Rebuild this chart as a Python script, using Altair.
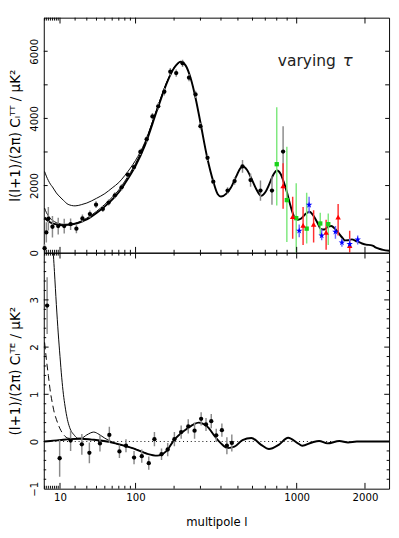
import numpy as np
import pandas as pd
import altair as alt

# ---------------- data ----------------
# TT best-fit model (thick line)
tt_fit_l = [2, 3, 4, 5, 6, 8, 10, 12, 15, 20, 25, 30, 40, 50, 60, 70, 80, 90, 100, 120,
            150, 180, 200, 222, 240, 260, 280, 300, 330, 360, 383, 400, 430, 455, 490,
            515, 535, 560, 592, 630, 666, 700, 731, 770, 804, 835, 865, 900, 929, 955,
            980, 1014, 1050, 1089, 1148, 1200, 1250, 1295, 1340, 1390, 1438, 1490, 1541,
            1600, 1649, 1700, 1760, 1850, 1945, 2020, 2108, 2160, 2218, 2300, 2367, 2500]
tt_fit_v = [1050, 990, 940, 900, 875, 845, 828, 820, 830, 860, 920, 990, 1180, 1380, 1580,
            1800, 2060, 2320, 2590, 3200, 4250, 5120, 5500, 5690, 5580, 5180, 4580, 3870,
            2850, 2120, 1740, 1672, 1760, 1927, 2280, 2514, 2570, 2470, 2210, 1880, 1692,
            1800, 2020, 2330, 2446, 2350, 2117, 1780, 1454, 1200, 1029, 983, 1020, 1125,
            1219, 1090, 887, 700, 690, 770, 793, 720, 604, 460, 368, 370, 397, 340, 275,
            240, 227, 200, 150, 110, 85, 57]
# TT models with other tau (thin lines, low multipoles only, they merge above l~200)
tt_mid_l = [2, 3, 4, 5, 6, 8, 10, 12, 15, 20, 30, 40, 50, 60, 70, 80, 90, 100, 120, 150, 180, 200, 222]
tt_mid_v = [1330, 1200, 1100, 1020, 965, 895, 860, 845, 850, 880, 1030, 1230, 1440, 1650,
            1870, 2130, 2390, 2660, 3260, 4290, 5140, 5505, 5690]
tt_high_l = [2, 3, 4, 5, 6, 8, 10, 12, 15, 20, 25, 30, 40, 50, 60, 70, 80, 90, 100, 120, 150, 180, 200, 222]
tt_high_v = [2420, 2280, 2150, 2040, 1960, 1780, 1660, 1560, 1440, 1395, 1430, 1480, 1620,
             1760, 1930, 2090, 2300, 2520, 2750, 3290, 4300, 5140, 5510, 5690]

# TT black data points
tt_l = [2, 3, 4, 6, 9, 12.5, 16.7, 21, 26, 33, 39.5, 47.5, 55, 64, 74.5, 85, 97, 110, 124,
        138, 153, 170, 188, 207, 229, 253, 279, 300, 332, 360, 437, 479, 530, 586, 661, 757, 860]
tt_v = [133, 604, 1012, 774, 793, 793, 850, 717, 1020, 1150, 1430, 1304, 1493, 1710, 1946,
        2324, 2550, 3003, 3380, 4060, 4360, 4795, 5390, 5350, 5640, 5213, 4715, 3770, 2825,
        2117, 1851, 2134, 2570, 2162, 1851, 1851, 3013]
tt_err = [120, 300, 350, 320, 250, 220, 170, 140, 120, 110, 100, 90, 90, 90, 90, 90, 90, 90,
          100, 100, 100, 110, 110, 110, 110, 110, 110, 100, 90, 80, 100, 110, 190, 200, 300, 425, 750]

# other experiments
green_l = [800, 897, 995, 1114, 1285, 1395]
green_v = [2636, 1567, 1030, 717, 870, 850]
green_lo = [1408, 320, 0, 275, 510, 227]
green_hi = [4336, 3154, 2070, 1785, 1190, 1170]

red_l = [860, 957, 1072, 1199, 1365, 1541, 1727]
red_v = [1993, 1077, 813, 842, 604, 1057, 207]
red_lo = [1312, 417, 227, 303, 85, 510, 0]
red_hi = [2664, 1663, 1360, 1267, 983, 1454, 652]

blue_l = [1028, 1143, 1304, 1500, 1600, 1727, 1866]
blue_v = [652, 1425, 510, 623, 303, 255, 388]
blue_lo = [462, 1170, 368, 416, 179, 142, 247]
blue_hi = [842, 1663, 700, 793, 416, 416, 510]

# TE models
te_fit_l = [2, 5, 10, 16, 25, 35, 45, 68, 97, 125, 150, 175, 200, 240, 270, 292, 310, 335,
            364, 400, 437, 478, 530, 592, 666, 731, 818, 910, 1014, 1062, 1180, 1270, 1383,
            1560, 1700, 1850, 2100, 2500]
te_fit_v = [0.0, 0.01, 0.03, 0.05, 0.06, 0.04, 0.02, -0.05, -0.15, -0.26, -0.30, -0.21, 0.03,
            0.25, 0.36, 0.40, 0.38, 0.30, 0.13, -0.04, -0.14, -0.11, 0.03, 0.075, -0.07, -0.16,
            -0.07, 0.08, -0.04, -0.09, -0.02, 0.01, -0.04, 0.01, -0.02, 0.0, 0.0, 0.0]
te_dash_l = [2, 3, 4, 5, 6, 7, 8, 10, 12, 15, 20]
te_dash_v = [2.1, 1.75, 1.4, 1.05, 0.8, 0.6, 0.47, 0.27, 0.15, 0.07, 0.06]
te_thin_l = [2, 3, 4, 5, 6, 7, 8, 9, 10, 11, 12, 13, 14.5, 16, 19.5, 22, 25, 30, 37, 43, 50,
             60, 70, 85, 97, 125]
te_thin_v = [9.0, 7.6, 6.4, 5.3, 4.3, 3.6, 2.9, 2.3, 1.8, 1.35, 1.0, 0.75, 0.47, 0.3, 0.13,
             0.07, 0.07, 0.14, 0.2, 0.15, 0.07, -0.01, -0.07, -0.11, -0.15, -0.26]

# TE data
te_l = [3.4, 9.8, 16.7, 25.5, 32.5, 44, 56, 71, 82, 97, 113, 129, 143, 162, 180, 201, 224,
        250, 275, 303, 325, 350, 375, 405, 433, 462]
te_v = [2.88, -0.355, 0.02, -0.06, -0.24, -0.04, 0.14, -0.21, -0.09, -0.34, -0.31, -0.46,
        0.05, -0.27, -0.17, 0.05, 0.2, 0.32, 0.23, 0.48, 0.36, 0.43, 0.13, 0.24, -0.09, -0.03]
te_err = [0.6, 0.39, 0.22, 0.22, 0.22, 0.17, 0.17, 0.14, 0.14, 0.14, 0.14, 0.14, 0.15, 0.12,
          0.14, 0.15, 0.14, 0.15, 0.17, 0.14, 0.14, 0.15, 0.14, 0.14, 0.18, 0.18]

# axis ticks and labels
x_minor_l = [2, 3, 4, 5, 6, 7, 8, 9, 20, 30, 40, 50, 60, 70, 80, 90,
             200, 300, 400, 500, 600, 700, 800, 900]
x_major_l = [10, 100, 1000, 2000]
x_label_l = [10, 100, 1000, 2000]
tt_tick_v = [1000, 2000, 3000, 4000, 5000, 6000]
tt_label_v = [0, 2000, 4000, 6000]
te_major_v = [0, 1, 2, 3]
te_minor_v = [-0.8, -0.6, -0.4, -0.2, 0.2, 0.4, 0.6, 0.8, 1.2, 1.4, 1.6, 1.8,
              2.2, 2.4, 2.6, 2.8, 3.2, 3.4, 3.6, 3.8]
te_label_v = [-1, 0, 1, 2, 3]

# ---------------- chart ----------------
W, H1, H2 = 357, 243, 244
L_MAX = 2500
FONT = "DejaVu Sans"

xs = alt.Scale(type="pow", exponent=2.5, domain=[0, float(np.log10(L_MAX))], nice=False, zero=False)
tt_ys = alt.Scale(domain=[0, 7000], nice=False, zero=False)
te_ys = alt.Scale(domain=[-1, 4], nice=False, zero=False)

yaxis_common = dict(ticks=False, domain=False, grid=False, labelAngle=270, labelAlign="center",
                    labelBaseline="bottom", labelPadding=4, labelFontSize=10.5, labelFlush=False,
                    labelOverlap=False, titleFontSize=14, titlePadding=8, labelFont=FONT,
                    titleFont=FONT, labelColor="black", titleColor="black",
                    titleFontWeight="normal", format="d")
tt_axis = alt.Axis(values=tt_label_v, title="l(l+1)/(2π) Cₗᵀᵀ / μK²", **yaxis_common)
te_axis = alt.Axis(values=te_label_v, title="(l+1)/(2π) Cₗᵀᴱ / μK²", **yaxis_common)
x_axis = alt.Axis(values=[float(np.log10(v)) for v in x_label_l],
                  labelExpr="'' + round(pow(10, datum.value))",
                  title="multipole l", ticks=False, domain=False, grid=False,
                  labelPadding=4, labelFontSize=10.5, titleFontSize=12, titlePadding=15,
                  labelFont=FONT, titleFont=FONT, labelColor="black", titleColor="black",
                  titleFontWeight="normal", labelFlush=False, labelOverlap=False)

star = ("M0,-1L0.2245,-0.309L0.951,-0.309L0.363,0.118L0.588,0.809L0,0.382L-0.588,0.809"
        "L-0.363,0.118L-0.951,-0.309L-0.2245,-0.309Z")


def cdf(l, v):
    return pd.DataFrame({"u": np.log10(np.array(l, dtype=float)), "v": v})


def edf(l, v, lo, hi):
    return pd.DataFrame({"u": np.log10(np.array(l, dtype=float)), "v": v, "lo": lo, "hi": hi})


def make_panel(ys, yax, xax, H):
    X = lambda: alt.X("u:Q", scale=xs, axis=xax)
    Y = lambda f="v": alt.Y(f"{f}:Q", scale=ys, axis=yax)

    def line(df, width, dash=None):
        kw = dict(color="black", strokeWidth=width, interpolate="monotone", clip=True)
        if dash:
            kw["strokeDash"] = dash
        return alt.Chart(df).mark_line(**kw).encode(x=X(), y=Y())

    def bars(df, color, width=1.5):
        return alt.Chart(df).mark_rule(color=color, strokeWidth=width, clip=True).encode(
            x=X(), y=Y("lo"), y2="hi:Q")

    def xticks():
        out = []
        for vals, ln in ((x_minor_l, 3), (x_major_l, 6)):
            d = pd.DataFrame({"u": np.log10(np.array(vals, dtype=float))})
            b = alt.Chart(d).mark_rule(color="black", strokeWidth=1)
            out.append(b.encode(x=X(), y=alt.value(H), y2=alt.value(H - ln)))
            out.append(b.encode(x=X(), y=alt.value(0), y2=alt.value(ln)))
        return out

    def yticks(vals, ln):
        d = pd.DataFrame({"v": vals})
        b = alt.Chart(d).mark_rule(color="black", strokeWidth=1)
        return [b.encode(y=Y(), x=alt.value(0), x2=alt.value(ln)),
                b.encode(y=Y(), x=alt.value(W), x2=alt.value(W - ln))]

    return X, Y, line, bars, xticks, yticks


# ---- top panel (TT) ----
X, Y, line, bars, xticks, yticks = make_panel(tt_ys, tt_axis, None, H1)
tt_data = pd.DataFrame({"u": np.log10(tt_l), "v": tt_v,
                        "lo": np.array(tt_v) - np.array(tt_err),
                        "hi": np.array(tt_v) + np.array(tt_err)})
g_df = edf(green_l, green_v, green_lo, green_hi)
r_df = edf(red_l, red_v, red_lo, red_hi)
b_df = edf(blue_l, blue_v, blue_lo, blue_hi)

top_layers = [
    line(cdf(tt_fit_l, tt_fit_v), 2),
    line(cdf(tt_high_l, tt_high_v), 1),
    line(cdf(tt_mid_l, tt_mid_v), 1),
    bars(tt_data, "#8a8a8a"),
    bars(g_df, "#7ee87e"),
    bars(r_df, "#ff3030"),
    bars(b_df, "#6b6bff"),
    alt.Chart(tt_data).mark_circle(color="black", size=20, opacity=1).encode(x=X(), y=Y()),
    alt.Chart(g_df).mark_square(color="#19d219", size=20, opacity=1).encode(x=X(), y=Y()),
    alt.Chart(r_df).mark_point(shape="triangle-up", filled=True, color="#ff0000", size=32,
                               opacity=1).encode(x=X(), y=Y()),
    alt.Chart(b_df).mark_point(shape=star, filled=True, color="#0000ff", size=50,
                               opacity=1).encode(x=X(), y=Y()),
    alt.Chart(pd.DataFrame({"t": ["varying"]})).mark_text(
        font=FONT, fontSize=16, align="left", baseline="alphabetic", color="#222").encode(
        text="t:N", x=alt.value(242), y=alt.value(50)),
    alt.Chart(pd.DataFrame({"t": ["τ"]})).mark_text(
        font=FONT, fontSize=17, fontStyle="italic", align="left", baseline="alphabetic",
        color="#222").encode(text="t:N", x=alt.value(309), y=alt.value(50)),
]
top_layers += xticks() + yticks(tt_tick_v, 4)
top = alt.layer(*top_layers).properties(width=W, height=H1)

# ---- bottom panel (TE) ----
X, Y, line, bars, xticks, yticks = make_panel(te_ys, te_axis, x_axis, H2)
te_data = pd.DataFrame({"u": np.log10(te_l), "v": te_v,
                        "lo": np.array(te_v) - np.array(te_err),
                        "hi": np.array(te_v) + np.array(te_err)})

bottom_layers = [
    line(cdf(te_fit_l, te_fit_v), 2),
    alt.Chart(pd.DataFrame({"v": [0.0]})).mark_rule(
        color="black", strokeWidth=1, strokeDash=[1, 3]).encode(y=Y()),
    line(cdf(te_thin_l, te_thin_v), 1),
    line(cdf(te_dash_l, te_dash_v), 1, dash=[7, 4]),
    bars(te_data, "#8a8a8a"),
    alt.Chart(te_data).mark_circle(color="black", size=20, opacity=1).encode(x=X(), y=Y()),
]
bottom_layers += xticks() + yticks(te_major_v, 5) + yticks(te_minor_v, 2.5)
bottom = alt.layer(*bottom_layers).properties(width=W, height=H2)

chart = alt.vconcat(top, bottom, spacing=0, bounds="flush").properties(
    padding={"left": 0, "right": 1, "top": 0, "bottom": 2}
).configure_view(stroke="black", strokeWidth=1).configure_axis(grid=False)

chart.save("out.html", embed_options={"renderer": "svg", "actions": False})
